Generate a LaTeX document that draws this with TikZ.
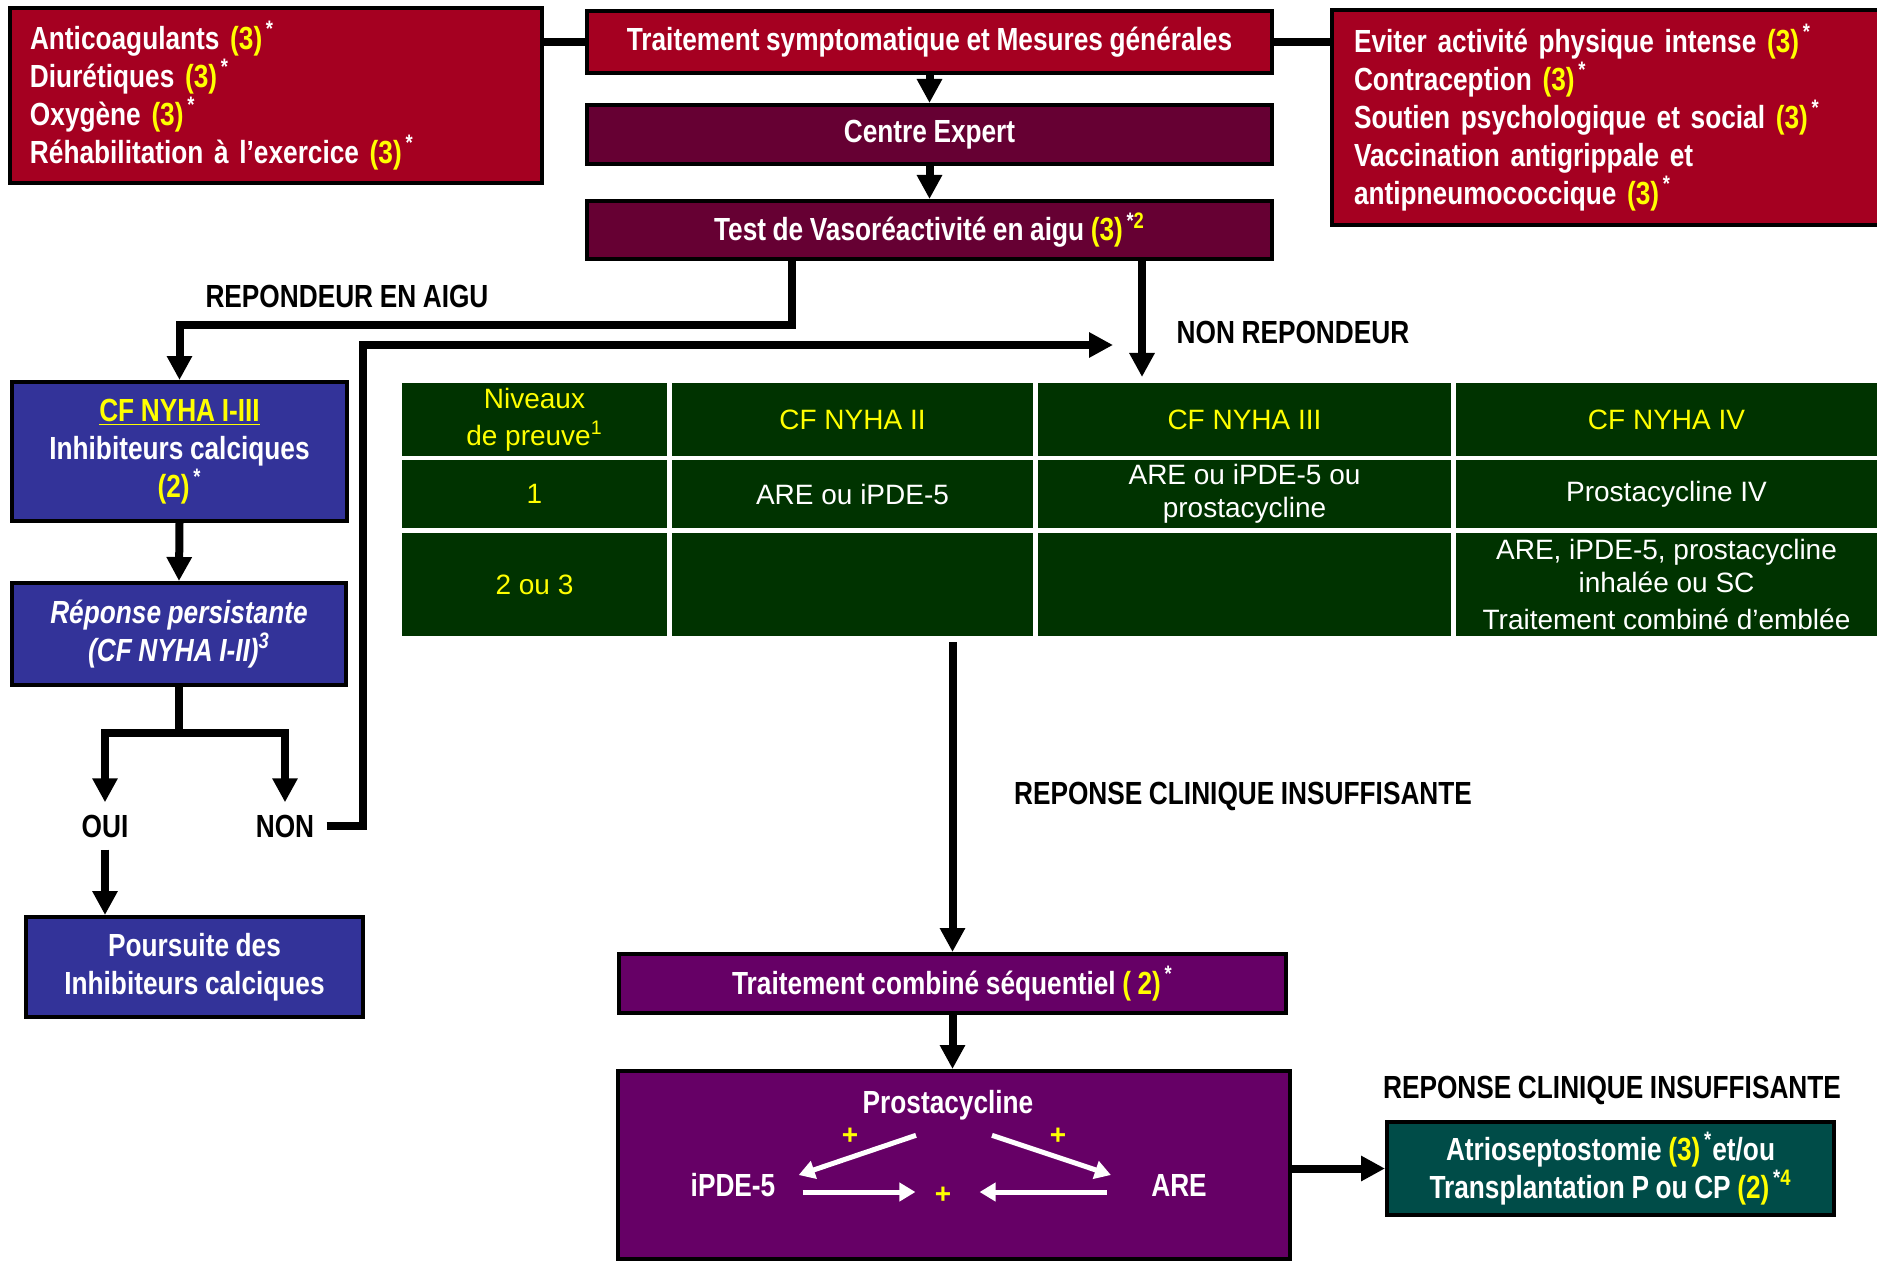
\documentclass[tikz,border=0pt]{standalone}
\usepackage{fontspec}
\setmainfont{Liberation Sans}
\newfontfamily\etroit{Liberation Sans}[FakeStretch=0.82]
\usetikzlibrary{arrows.meta}
\definecolor{rouge}{RGB}{165,0,33}
\definecolor{bordeaux}{RGB}{102,0,51}
\definecolor{bleu}{RGB}{51,51,153}
\definecolor{vert}{RGB}{0,51,0}
\definecolor{pourpre}{RGB}{102,0,102}
\definecolor{sarcelle}{RGB}{0,76,72}
\definecolor{jaune}{RGB}{255,255,0}
\newcommand{\niv}[1]{{\color{jaune}(#1)}}
\newcommand{\etoile}{\textsuperscript{\,*}}
\newcommand{\gras}{\etroit\bfseries\fontsize{16}{19}\selectfont\spaceskip=3.3pt plus 1pt minus 1pt\relax}
\begin{document}
\begin{tikzpicture}[x=0.5pt,y=-0.5pt,
	wh/.style 2 args={minimum width=#1*0.5pt,minimum height=#2*0.5pt},
	boite/.style={draw=black,line width=2pt,text=white,inner sep=0pt,align=center,font=\gras},
	italique/.style={font=\gras\itshape},
	lbl/.style={font=\gras,inner sep=6pt},
	cell/.style={fill=vert,inner sep=0pt,align=center,text=white,font=\fontsize{14}{16.5}\selectfont},
	tete/.style={cell,text=jaune},
	plus/.style={text=jaune,font=\bfseries\fontsize{14}{14}\selectfont,inner sep=3pt},
	trait/.style={line width=4pt},
	fl/.style={trait,-{Triangle[width=12pt,length=12pt]}},
	flb/.style={white,line width=2.5pt,-{Triangle[width=9pt,length=8pt]}}]
	\useasboundingbox (0,0) rectangle (1877,1262);
	% mesures generales
	\node[boite,fill=rouge,wh={685}{62}] (sym) at (929.5,42) {Traitement symptomatique et Mesures générales};
	\node[boite,fill=bordeaux,wh={685}{59}] (expert) at (929.5,134.5) {Centre Expert};
	\node[boite,fill=bordeaux,wh={685}{58}] (test) at (929.5,230) {Test de Vasoréactivité en aigu \niv{3}\textsuperscript{\,*{\color{jaune}2}}};
	\node[boite,fill=rouge,align=left,minimum height=87.5pt,inner xsep=10pt,text width=246pt] (medg) at (276,95.5) {Anticoagulants \niv{3}\etoile\\Diurétiques \niv{3}\etoile\\Oxygène \niv{3}\etoile\\Réhabilitation à l’exercice \niv{3}\etoile};
	\node[boite,fill=rouge,align=left,minimum height=107.5pt,inner xsep=11pt,text width=257pt] (mesg) at (1611,117.5) {Eviter activité physique intense \niv{3}\etoile\\Contraception \niv{3}\etoile\\Soutien psychologique et social \niv{3}\etoile\\Vaccination antigrippale et\\antipneumococcique \niv{3}\etoile};
	\draw[trait] (medg.east |- sym.west) -- (sym.west);
	\draw[trait] (sym.east) -- (sym.east -| mesg.west);
	\draw[fl] (sym.south) -- (expert.north);
	\draw[fl] (expert.south) -- (test.north);
	% repondeurs
	\node[lbl] (lrep) at (347,296) {REPONDEUR EN AIGU};
	\node[lbl] (lnon) at (1293,332) {NON REPONDEUR};
	\node[boite,fill=bleu,wh={335}{139}] (cf) at (179.5,451.5) {{\color{jaune}\underline{CF NYHA I-III}}\\Inhibiteurs calciques\\\niv{2}\etoile};
	\node[boite,italique,fill=bleu,wh={334}{102}] (rep) at (179,634) {Réponse persistante\\(CF NYHA I-II)\textsuperscript{3}};
	\node[lbl] (oui) at (105,826) {OUI};
	\node[lbl] (non) at (285,826) {NON};
	\node[boite,fill=bleu,wh={337}{100}] (pours) at (194.5,967) {Poursuite des\\Inhibiteurs calciques};
	\coordinate (jonction) at (1113,345);
	\draw[fl] ([xshift=-68.75pt]test.south) -- ++(0,64) -| (cf.north);
	\draw[fl] ([xshift=106.25pt]test.south) -- ++(0,116);
	\draw[fl] (cf.south) -- (rep.north);
	\draw[trait] (rep.south) -- ++(0,46) coordinate (fourche);
	\draw[fl] (fourche) -| (oui.north);
	\draw[fl] (fourche) -| (non.north);
	\draw[fl] (oui.south) -- (oui.south |- pours.north);
	\draw[fl] (non.east) -- ++(36,0) |- (jonction);
	% tableau
	\node[tete,wh={265}{73}] (t00) at (534.5,419.5) {Niveaux\\[2pt]de preuve\textsuperscript{1}};
	\node[tete,wh={361}{73}] (t01) at (852.5,419.5) {CF NYHA II};
	\node[tete,wh={413}{73}] (t02) at (1244.5,419.5) {CF NYHA III};
	\node[tete,wh={421}{73}] (t03) at (1666.5,419.5) {CF NYHA IV};
	\node[tete,wh={265}{68}] (t10) at (534.5,494) {1};
	\node[cell,wh={361}{68}] (t11) at (852.5,494) {ARE ou iPDE-5};
	\node[cell,wh={413}{68}] (t12) at (1244.5,494) {ARE ou iPDE-5 ou\\prostacycline};
	\node[cell,wh={421}{68}] (t13) at (1666.5,494) {Prostacycline IV};
	\node[tete,wh={265}{103}] (t20) at (534.5,584.5) {2 ou 3};
	\node[cell,wh={361}{103}] (t21) at (852.5,584.5) {};
	\node[cell,wh={413}{103}] (t22) at (1244.5,584.5) {};
	\node[cell,wh={421}{103}] (t23) at (1666.5,584.5) {ARE, iPDE-5, prostacycline\\inhalée ou SC\\[2pt]Traitement combiné d’emblée};
	% traitement combine
	\node[lbl] (lins) at (1243,796) {REPONSE CLINIQUE INSUFFISANTE};
	\node[boite,fill=pourpre,wh={667}{59}] (seq) at (952.5,983.5) {Traitement combiné séquentiel {\color{jaune}( 2)}\etoile};
	\draw[fl] ([yshift=-3pt]seq.north |- t21.south) -- (seq.north);
	\node[boite,fill=pourpre,wh={672}{188}] (combi) at (954,1165) {};
	\draw[fl] (seq.south) -- (seq.south |- combi.north);
	\node[lbl,text=white,inner sep=3pt] (prost) at (948,1105) {Prostacycline};
	\node[lbl,text=white,inner sep=3pt] (ipde) at (733,1185) {iPDE-5};
	\node[lbl,text=white,inner sep=3pt] (are) at (1179,1185) {ARE};
	\node[plus] (p1) at (850,1136) {+};
	\node[plus] (p2) at (1058,1136) {+};
	\node[plus] (p3) at (943,1195) {+};
	\draw[flb] ([xshift=-16pt,yshift=-4.5pt]prost.south) -- ([xshift=8.5pt,yshift=5pt]ipde.east);
	\draw[flb] ([xshift=22pt,yshift=-4.5pt]prost.south) -- ([xshift=-17pt,yshift=5pt]are.west);
	\draw[flb] ([xshift=10.5pt,yshift=-3.5pt]ipde.east) -- ([xshift=-6.5pt,yshift=1.5pt]p3.west);
	\draw[flb] ([xshift=-19pt,yshift=-3.5pt]are.west) -- ([xshift=11pt,yshift=1.5pt]p3.east);
	\node[lbl] (lins2) at (1612,1090) {REPONSE CLINIQUE INSUFFISANTE};
	\node[boite,fill=sarcelle,wh={447}{93}] (atrio) at (1610.5,1168.5) {Atrioseptostomie \niv{3}\textsuperscript{\,*}et/ou\\Transplantation P ou CP \niv{2}\textsuperscript{\,*{\color{jaune}4}}};
	\draw[fl] (combi.east |- atrio.west) -- (atrio.west);
\end{tikzpicture}
\end{document}
